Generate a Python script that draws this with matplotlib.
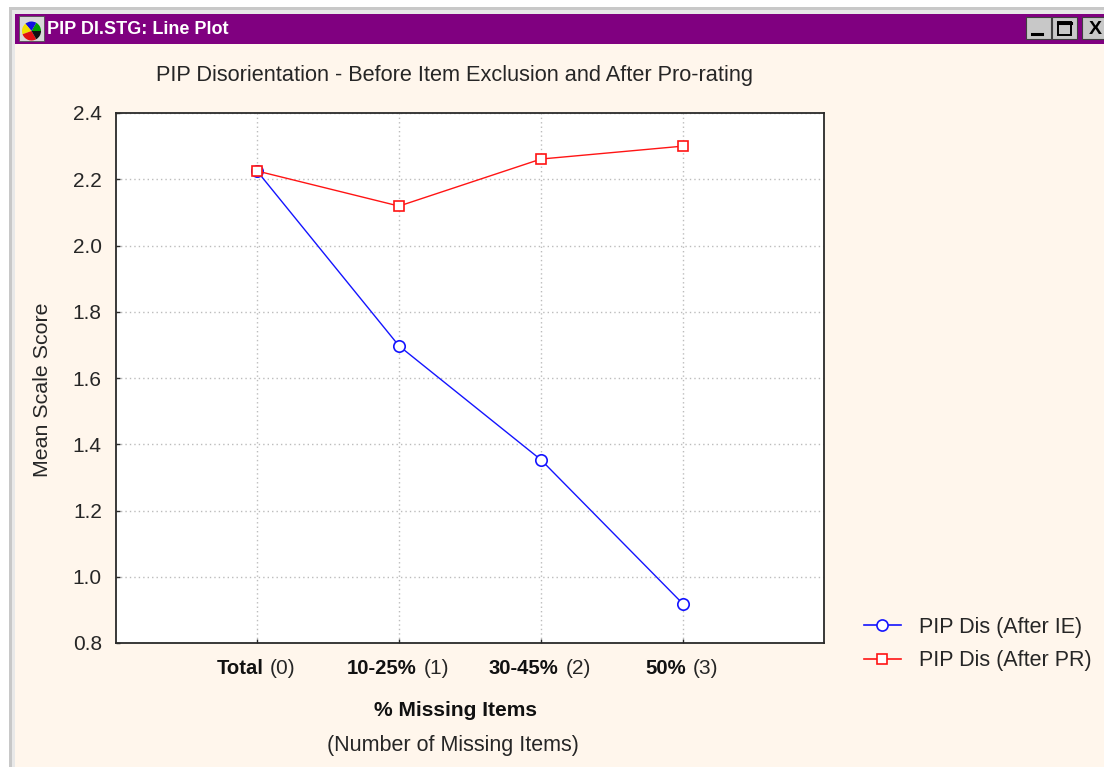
import matplotlib
matplotlib.use("Agg")
import matplotlib.pyplot as plt
from matplotlib.patches import Rectangle, Wedge
from matplotlib.lines import Line2D
from matplotlib.transforms import blended_transform_factory

plt.rcParams['font.family'] = ['Liberation Sans', 'DejaVu Sans']

W, H = 1104, 767
x_pos = [0, 1, 2, 3]
cat_bold = ["Total", "10-25%", "30-45%", "50%"]
cat_num = ["(0)", "(1)", "(2)", "(3)"]
after_ie = [2.225, 1.697, 1.353, 0.918]
after_pr = [2.225, 2.119, 2.261, 2.300]
y_ticks = [0.8, 1.0, 1.2, 1.4, 1.6, 1.8, 2.0, 2.2, 2.4]

CREAM = '#FFF6EC'
PURPLE = '#800080'
TXT = '#262626'

fig = plt.figure(figsize=(W / 100, H / 100), dpi=100, facecolor='white')

# window chrome, in pixel coordinates
bg = fig.add_axes([0, 0, 1, 1], zorder=0)
bg.set_xlim(0, W); bg.set_ylim(H, 0); bg.axis('off')
bg.add_patch(Rectangle((9, 7), W, H, fc='#c8c8c8', ec='none'))
bg.add_patch(Rectangle((12, 10), W, H, fc='#e8e8e8', ec='none'))
bg.add_patch(Rectangle((15, 14), W, 30, fc=PURPLE, ec='none'))
bg.add_patch(Rectangle((15, 44), W, H, fc=CREAM, ec='none'))
bg.text(47, 29, "PIP DI.STG: Line Plot", color='white', fontsize=13,
        fontweight='bold', va='center', ha='left')

# title-bar icon
bg.add_patch(Rectangle((19, 16), 25, 25, fc='#d8d8d8', ec='#505050', lw=0.6))
for a, b, c in [(0, 60, '#00a000'), (60, 130, '#1010e0'), (130, 200, '#f0e000'),
                (200, 300, '#e01010'), (300, 360, '#101010')]:
    bg.add_patch(Wedge((31.5, 31), 9.5, -b, -a, fc=c, ec='none'))

# title-bar buttons
for bx in (1026, 1052, 1082):
    bw = 25 if bx < 1082 else 30
    bg.add_patch(Rectangle((bx, 17), bw, 22, fc='#c8c8c8', ec='#404040', lw=0.8))
bg.plot([1032, 1042], [34, 34], color='black', lw=2.2)
bg.add_patch(Rectangle((1058, 22), 13, 13, fc='none', ec='black', lw=1.4))
bg.plot([1058, 1071], [22.5, 22.5], color='black', lw=2.2)
bg.text(1095, 30, "X", color='black', fontsize=14, fontweight='bold',
        ha='center', va='center')

# plot area
L, R, T, B = 116, 824, 113, 643
ax = fig.add_axes([L / W, 1 - B / H, (R - L) / W, (B - T) / H], zorder=1)
ax.set_facecolor('white')
ax.set_xlim(-0.993, 3.993)
ax.set_ylim(0.8, 2.4)
ax.grid(True, color='#bcbcbc', lw=1.0, ls=(0, (1, 2.2)))
ax.set_axisbelow(True)
for s in ax.spines.values():
    s.set_linewidth(1.3)
    s.set_color('#2a2a2a')
ax.set_xticks(x_pos)
ax.set_xticklabels([])
ax.set_yticks(y_ticks)
ax.set_yticklabels([f"{v:.1f}" for v in y_ticks], fontsize=15, color=TXT)
ax.tick_params(axis='both', direction='in', length=3, width=1, color='#2a2a2a')
ax.tick_params(axis='y', pad=10.2)

ax.plot(x_pos, after_ie, color='#1414ff', lw=1.0, marker='o', ms=8.2,
        mfc='white', mec='#1414ff', mew=1.2, clip_on=False, zorder=3)
ax.plot(x_pos, after_pr, color='#ff1414', lw=1.0, marker='s', ms=7.6,
        mfc='white', mec='#ff1414', mew=1.2, clip_on=False, zorder=4)

# category labels with a bold and a regular part, centred on each tick
trans = blended_transform_factory(ax.transData, fig.transFigure)
fig.canvas.draw()
r = fig.canvas.get_renderer()
GAP = 7
for xv, bt, nt in zip(x_pos, cat_bold, cat_num):
    t1 = fig.text(0, 0, bt, fontsize=14.6, fontweight='bold', color='#111111',
                  transform=trans, ha='left', va='center')
    t2 = fig.text(0, 0, nt, fontsize=15, color=TXT,
                  transform=trans, ha='left', va='center')
    w1 = t1.get_window_extent(r).width
    w2 = t2.get_window_extent(r).width
    px = ax.transData.transform((xv, 0))[0] - 1
    start = px - (w1 + GAP + w2) / 2
    yf = 1 - 668 / H
    t1.set_transform(fig.transFigure); t2.set_transform(fig.transFigure)
    t1.set_position((start / W, yf))
    t2.set_position(((start + w1 + GAP) / W, yf))

fig.text(454 / W, 1 - 75 / H, "PIP Disorientation - Before Item Exclusion and After Pro-rating",
         fontsize=15.67, color=TXT, ha='center', va='center')
fig.text(455 / W, 1 - 711 / H, "% Missing Items", fontsize=15.1, fontweight='bold',
         color='#111111', ha='center', va='center')
fig.text(453 / W, 1 - 746 / H, "(Number of Missing Items)", fontsize=15.5, color=TXT,
         ha='center', va='center')
fig.text(43 / W, 1 - 390 / H, "Mean Scale Score", fontsize=15.4, color=TXT,
         rotation=90, ha='center', va='center')

# legend
handles = [
    Line2D([], [], color='#1414ff', lw=1.2, marker='o', ms=8, mfc='white', mec='#1414ff', mew=1.2),
    Line2D([], [], color='#ff1414', lw=1.2, marker='s', ms=7.5, mfc='white', mec='#ff1414', mew=1.2),
]
fig.legend(handles, ["PIP Dis (After IE)", "PIP Dis (After PR)"],
           loc='center left', bbox_to_anchor=(857.5 / W, 1 - 644 / H),
           frameon=False, fontsize=15.5, labelcolor=TXT, handlelength=1.72,
           handletextpad=0.85, labelspacing=0.59, borderpad=0.3, borderaxespad=0)

fig.savefig('out.png', dpi=100, facecolor='white')
